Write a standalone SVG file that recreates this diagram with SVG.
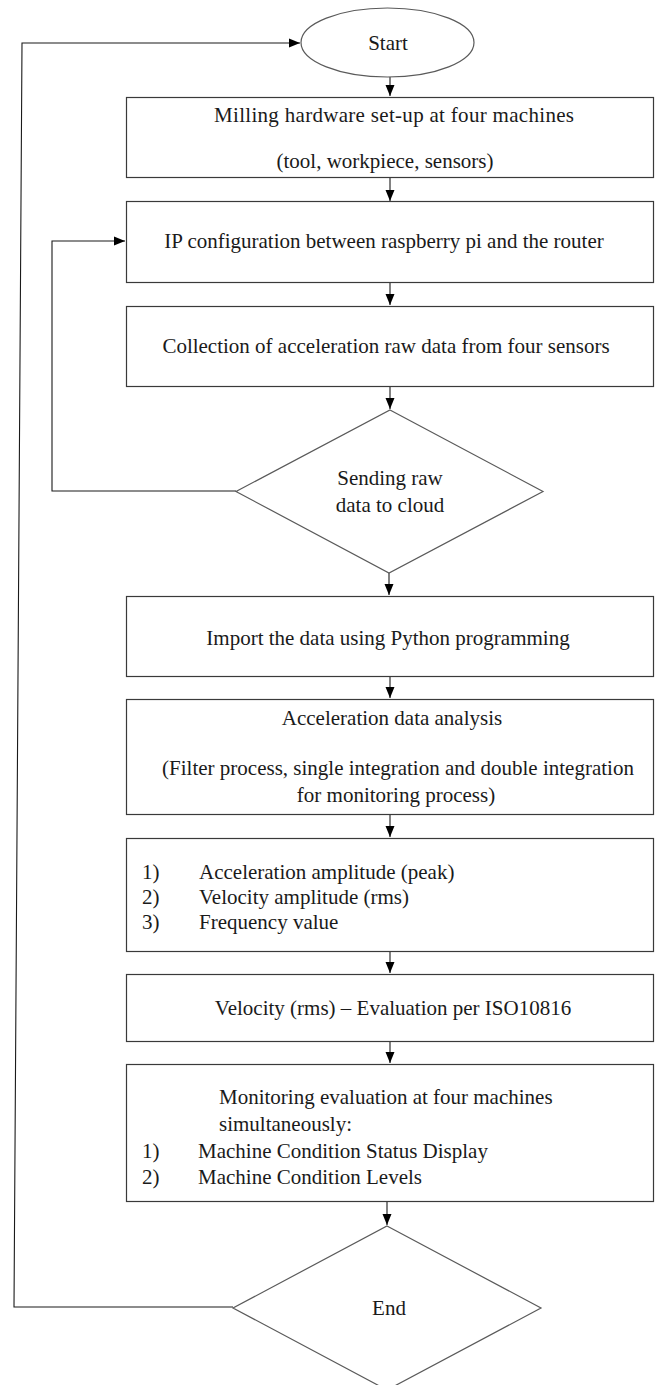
<svg xmlns="http://www.w3.org/2000/svg" width="659" height="1385" viewBox="0 0 659 1385">
<style>
.box{fill:#fff;stroke:#3a3a3a;stroke-width:1.2}
.shape{fill:#fff;stroke:#5a5a5a;stroke-width:1.2}
.conn{fill:none;stroke:#1a1a1a;stroke-width:1.1}
text{font-family:"Liberation Serif","Times New Roman",serif;font-size:21px;fill:#1a1a1a}
.c{text-anchor:middle}
</style>
<defs>
<marker id="ah" markerUnits="userSpaceOnUse" markerWidth="12" markerHeight="10" refX="11" refY="5" orient="auto">
<path d="M0,0.5 L11,5 L0,9.5 Z" fill="#000"/>
</marker>
</defs>
<rect width="659" height="1385" fill="#fff"/>
<g id="connectors">
<path class="conn" d="M390,77 V96" marker-end="url(#ah)"/>
<path class="conn" d="M390,178 V201" marker-end="url(#ah)"/>
<path class="conn" d="M390,282 V305" marker-end="url(#ah)"/>
<path class="conn" d="M390,386 V409" marker-end="url(#ah)"/>
<path class="conn" d="M389,573 V595" marker-end="url(#ah)"/>
<path class="conn" d="M390,677 V698" marker-end="url(#ah)"/>
<path class="conn" d="M390,814 V837" marker-end="url(#ah)"/>
<path class="conn" d="M390,952 V973" marker-end="url(#ah)"/>
<path class="conn" d="M390,1041 V1063" marker-end="url(#ah)"/>
<path class="conn" d="M387,1202 V1225" marker-end="url(#ah)"/>
<path class="conn" d="M236,491 H52 V241 H125" marker-end="url(#ah)"/>
<path class="conn" d="M233,1307 H14 L22,43 H300" marker-end="url(#ah)"/>
</g>
<g id="start">
<ellipse class="shape" cx="387.5" cy="42.5" rx="86.5" ry="34.5"/>
<text class="c" x="388" y="50">Start</text>
</g>
<g id="box1">
<rect class="box" x="126.5" y="97.5" width="527" height="80"/>
<text class="c" x="394" y="122" textLength="360" lengthAdjust="spacing">Milling hardware  set-up at four machines</text>
<text class="c" x="385" y="168">(tool, workpiece, sensors)</text>
</g>
<g id="box2">
<rect class="box" x="126.5" y="201.5" width="527" height="81"/>
<text class="c" x="384" y="248">IP configuration between raspberry  pi and the router</text>
</g>
<g id="box3">
<rect class="box" x="126.5" y="306.5" width="527" height="80"/>
<text class="c" x="386" y="353">Collection of acceleration raw data from four sensors</text>
</g>
<g id="decision1">
<polygon class="shape" points="390,410 543,491.5 389,573 236,491.5"/>
<text class="c" x="390" y="485">Sending raw</text>
<text class="c" x="390" y="512">data to cloud</text>
</g>
<g id="box4">
<rect class="box" x="126.5" y="596.5" width="527" height="80"/>
<text class="c" x="388" y="645">Import the data using Python programming</text>
</g>
<g id="box5">
<rect class="box" x="126.5" y="699.5" width="527" height="115"/>
<text class="c" x="392" y="725">Acceleration data analysis</text>
<text class="c" x="398" y="775">(Filter process, single integration and double integration</text>
<text class="c" x="396" y="802">for monitoring process)</text>
</g>
<g id="box6">
<rect class="box" x="126.5" y="838.5" width="527" height="113"/>
<text x="142" y="879">1)</text><text x="199" y="879">Acceleration amplitude (peak)</text>
<text x="142" y="904">2)</text><text x="199" y="904">Velocity amplitude (rms)</text>
<text x="142" y="929">3)</text><text x="199" y="929">Frequency value</text>
</g>
<g id="box7">
<rect class="box" x="126.5" y="974.5" width="527" height="67"/>
<text class="c" x="393" y="1015">Velocity (rms) – Evaluation per ISO10816</text>
</g>
<g id="box8">
<rect class="box" x="126.5" y="1064.5" width="527" height="137"/>
<text x="219" y="1104">Monitoring evaluation at four machines</text>
<text x="219" y="1131">simultaneously:</text>
<text x="142" y="1158">1)</text><text x="198" y="1158">Machine Condition Status Display</text>
<text x="142" y="1184">2)</text><text x="198" y="1184">Machine Condition Levels</text>
</g>
<g id="end">
<polygon class="shape" points="387,1226 541,1308 387,1390 233,1308"/>
<text class="c" x="389" y="1315">End</text>
</g>
</svg>
